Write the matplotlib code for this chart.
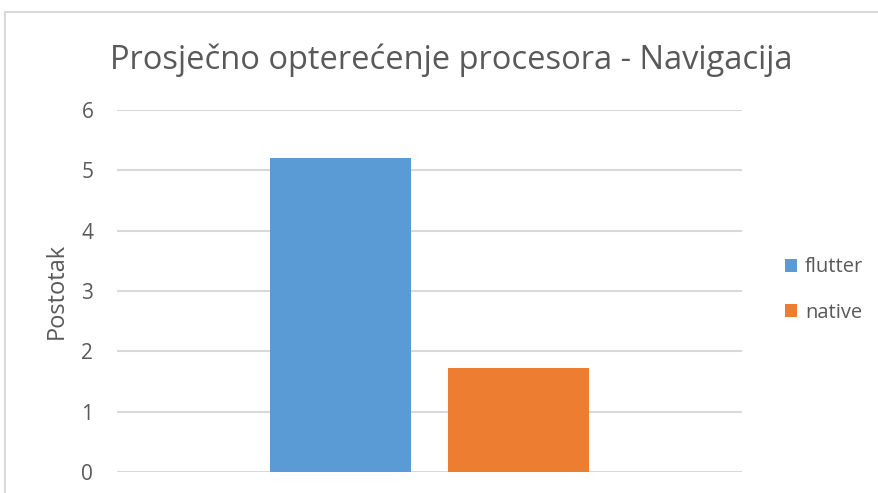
import matplotlib.pyplot as plt
from matplotlib.patches import Rectangle

plt.rcParams['font.family'] = ['Open Sans', 'DejaVu Sans']

series = ['flutter', 'native']
values = [5.2, 1.72]
colors = ['#5b9bd5', '#ed7d31']
yticks = [0, 1, 2, 3, 4, 5, 6]

fig = plt.figure(figsize=(8.79, 4.93), dpi=100)
ax = fig.add_axes([0.133, 0.0426, 0.711, 0.734])

width = 0.2256
offsets = [-0.1424, 0.1424]
for name, val, col, off in zip(series, values, colors, offsets):
    ax.bar(off, val, width=width, color=col, label=name, zorder=3)

ax.set_xlim(-0.5, 0.5)
ax.set_ylim(0, 6)
ax.set_yticks(yticks)
ax.set_xticks([])
ax.grid(axis='y', color='#d9d9d9', linewidth=1.5, zorder=0)
for s in ax.spines.values():
    s.set_visible(False)
ax.tick_params(axis='y', length=0, pad=17, labelsize=15, labelcolor='#595959')
ax.set_ylabel('Postotak', fontsize=17, color='#595959', labelpad=9)

fig.text(0.513, 0.878, 'Prosječno opterećenje procesora - Navigacija',
         ha='center', va='center', fontsize=23.5, color='#595959')

leg = ax.legend(loc='center left', bbox_to_anchor=(1.04, 0.503), frameon=False,
                fontsize=14.5, labelcolor='#595959', handlelength=0.6,
                handleheight=0.6, handletextpad=0.4, labelspacing=1.25)

fig.patches.append(Rectangle((5 / 879, -0.1), 1.2, (493 - 12) / 493 + 0.1,
                             transform=fig.transFigure, fill=False,
                             edgecolor='#d9d9d9', linewidth=1.5))

fig.savefig('out.png', dpi=100)
